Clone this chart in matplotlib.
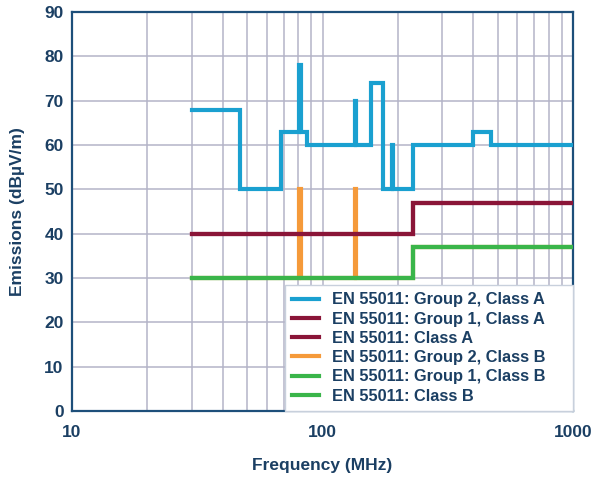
import numpy as np
import matplotlib
matplotlib.use("Agg")
import matplotlib.pyplot as plt
from matplotlib.ticker import LogLocator, FixedLocator, NullFormatter

# EN 55011 radiated emission limits (MHz edges, dBuV/m levels)
g2a_edges = [30, 47, 68, 80.872, 81.848, 87, 134.786, 136.414, 156, 174, 188.7, 190.979, 230, 400, 470, 1000]
g2a_levels = [68, 50, 63, 78, 63, 60, 70, 60, 74, 50, 60, 50, 60, 63, 60]

g1a_edges = [30, 230, 1000]
g1a_levels = [40, 47]

g2b_edges = [30, 80.872, 81.848, 134.786, 136.414, 230, 1000]
g2b_levels = [30, 50, 30, 50, 30, 37]

g1b_edges = [30, 230, 1000]
g1b_levels = [30, 37]

labels = ["EN 55011: Group 2, Class A", "EN 55011: Group 1, Class A", "EN 55011: Class A",
          "EN 55011: Group 2, Class B", "EN 55011: Group 1, Class B", "EN 55011: Class B"]

navy = "#1b3f63"
blue = "#1aa0d0"
maroon = "#8a1538"
orange = "#f59a3a"
green = "#3ab54a"

plt.rcParams['font.family'] = ['Liberation Sans', 'DejaVu Sans']
plt.rcParams['font.weight'] = 'bold'

fig = plt.figure(figsize=(6.0, 4.79), dpi=100)
ax = fig.add_axes([0.12, 0.142, 0.835, 0.833])

def stepline(edges, levels, color, label, z):
    return ax.step(edges, list(levels) + [levels[-1]], where='post', color=color,
                   lw=3.0, label=label, zorder=z, solid_joinstyle='miter')[0]

h_or = stepline(g2b_edges, g2b_levels, orange, labels[3], 3)
h_r1 = stepline(g1a_edges, g1a_levels, maroon, labels[1], 4)
h_r2 = stepline(g1a_edges, g1a_levels, maroon, labels[2], 4)
h_g1 = stepline(g1b_edges, g1b_levels, green, labels[4], 4)
h_g2 = stepline(g1b_edges, g1b_levels, green, labels[5], 4)
h_bl = stepline(g2a_edges, g2a_levels, blue, labels[0], 5)

ax.set_xscale('log')
ax.set_xlim(10, 1000)
ax.set_ylim(0, 90)
ax.set_yticks(np.arange(0, 91, 10))
ax.xaxis.set_major_locator(FixedLocator([10, 100, 1000]))
ax.set_xticklabels(["10", "100", "1000"])
ax.xaxis.set_minor_locator(LogLocator(base=10, subs=np.arange(2, 10)))
ax.xaxis.set_minor_formatter(NullFormatter())

ax.grid(True, which='both', axis='x', color='#b4b4c8', lw=1.1, zorder=0)
ax.grid(True, which='major', axis='y', color='#b4b4c8', lw=1.1, zorder=0)
ax.set_axisbelow(True)

for s in ax.spines.values():
    s.set_color("#1d4f7a")
    s.set_linewidth(1.6)

ax.tick_params(which='both', length=0, colors=navy, labelsize=12.5)
ax.tick_params(axis='x', pad=10)
ax.tick_params(axis='y', pad=6)
for t in ax.get_xticklabels() + ax.get_yticklabels():
    t.set_fontweight('bold')

ax.set_xlabel("Frequency (MHz)", fontsize=12.5, fontweight='bold', color=navy, labelpad=13)
ax.set_ylabel("Emissions (dBµV/m)", fontsize=12.5, fontweight='bold', color=navy, labelpad=14)

leg = ax.legend([h_bl, h_r1, h_r2, h_or, h_g1, h_g2], labels, loc='lower left',
                bbox_to_anchor=(0.425, 0.0, 0.575, 0.3), mode='expand',
                borderaxespad=0, fontsize=11.8, frameon=True, fancybox=False,
                edgecolor='#c8d0dc', framealpha=1, handlelength=1.6,
                handletextpad=0.8, labelspacing=0.26, borderpad=0.45)
leg.set_zorder(10)
for t in leg.get_texts():
    t.set_color(navy)
    t.set_fontweight('bold')

fig.savefig("out.png", dpi=100)
